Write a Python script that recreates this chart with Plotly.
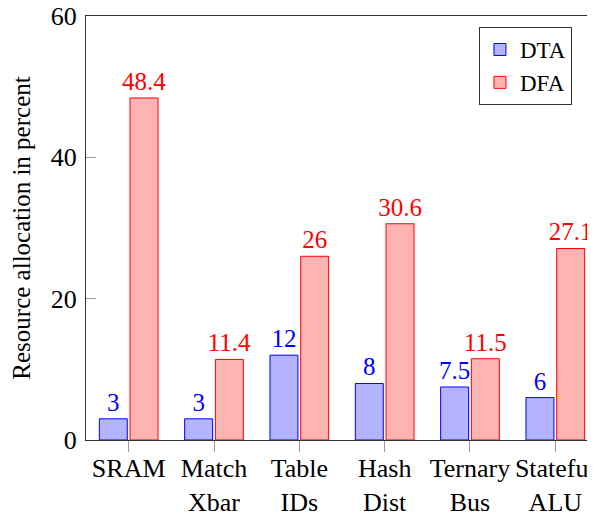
import plotly.graph_objects as go

# categorias e valores (percentual de recursos)
CATEGORIAS = ["SRAM", "Match<br>Xbar", "Table<br>IDs", "Hash<br>Dist", "Ternary<br>Bus", "Stateful<br>ALU"]
DTA = [3, 3, 12, 8, 7.5, 6]
DFA = [48.4, 11.4, 26, 30.6, 11.5, 27.1]

FONTE = "Liberation Serif, Times New Roman, serif"

fig = go.Figure()
fig.add_trace(go.Bar(
    name="DTA", x=CATEGORIAS, y=DTA,
    marker=dict(color="#B3B3FF", line=dict(color="#0000FF", width=1)),
    text=[f"{v:g}" for v in DTA], textposition="outside", constraintext="none",
    textfont=dict(color="#0000FF", size=25, family=FONTE),
    cliponaxis=False,
))
fig.add_trace(go.Bar(
    name="DFA", x=CATEGORIAS, y=DFA,
    marker=dict(color="#FFB3B3", line=dict(color="#FF0000", width=1)),
    text=[f"{v:g}" for v in DFA], textposition="outside", constraintext="none",
    textfont=dict(color="#FF0000", size=25, family=FONTE),
    cliponaxis=False,
))

# a página tem margem de 8px no body; figura compensada
fig.update_layout(
    width=587, height=506,
    margin=dict(l=78, r=0, t=8, b=74, autoexpand=False),
    paper_bgcolor="white", plot_bgcolor="white",
    font=dict(family=FONTE, size=25, color="black"),
    barmode="group", bargap=0.28, bargroupgap=0.09,
    showlegend=True,
    legend=dict(
        x=0.772, y=0.974, xanchor="left", yanchor="top",
        bordercolor="#333333", borderwidth=1, bgcolor="white",
        font=dict(size=23), itemwidth=30, tracegroupgap=0,
    ),
)
fig.update_xaxes(
    range=[-0.5, 5.465], showline=True, linecolor="#333333", linewidth=1.2,
    mirror=True, ticks="outside", ticklen=11, tickcolor="#999999",
    showgrid=False, zeroline=False, tickfont=dict(size=26), automargin=False,
    ticklabelstandoff=-6, ticklabeloverflow="allow",
)
fig.update_yaxes(
    range=[0, 60], tickvals=[0, 20, 40, 60], showline=True, linecolor="#333333",
    linewidth=1.2, ticks="inside", ticklen=10, tickcolor="#999999",
    showgrid=False, zeroline=False, tickfont=dict(size=26), ticklabelstandoff=3,
    ticklabeloverflow="allow",
    title=dict(text="Resource allocation in percent", font=dict(size=25), standoff=16),
    automargin=False,
)

fig.write_html("out.html")
